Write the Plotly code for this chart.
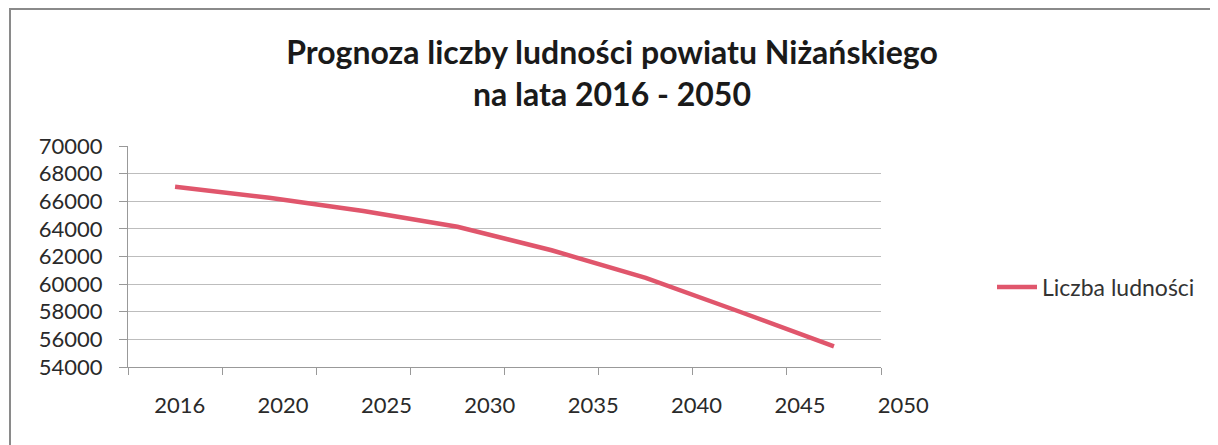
import plotly.graph_objects as go

years = ["2016", "2020", "2025", "2030", "2035", "2040", "2045", "2050"]
population = [67050, 66250, 65300, 64150, 62450, 60450, 58000, 55500]
series_name = "Liczba ludności"
title_text = "Prognoza liczby ludności powiatu Niżańskiego<br>na lata 2016 - 2050"
y_min, y_max, y_step = 54000, 70000, 2000

W, H = 1218, 445
OFF = 8  # page body margin
L, R_PLOT, T, B = 128 - OFF, 881 - OFF, 146 - OFF, 367 - OFF
LABEL_END = 955 - OFF  # right end of label axis (scan is stretched)

fig = go.Figure()
fig.add_trace(go.Scatter(
    x=years, y=population, mode="lines", name=series_name,
    line=dict(color="#E0566C", width=4.5),
    xaxis="x", yaxis="y",
))
# invisible trace carrying the category labels on a second x axis
fig.add_trace(go.Scatter(
    x=years, y=[None] * len(years), mode="lines", showlegend=False,
    xaxis="x2", yaxis="y2", hoverinfo="skip",
))

paper_w = LABEL_END - L
paper_h = B - T
fig.update_layout(
    width=W, height=H,
    margin=dict(l=L, r=W - LABEL_END, t=T, b=H - B, pad=0),
    paper_bgcolor="white", plot_bgcolor="rgba(0,0,0,0)",
    title=dict(text=title_text, x=(612 - OFF) / W, xref="container", xanchor="center",
               y=1 - 56 / H, yref="container", yanchor="top",
               font=dict(family="Lato", size=32, color="#1a1a1a", weight="bold")),
    xaxis=dict(domain=[0, (R_PLOT - L) / paper_w], type="category", anchor="y",
               showticklabels=False, ticks="outside", tickson="boundaries",
               ticklen=7, tickcolor="#999", showline=True, linecolor="#999",
               linewidth=1, showgrid=False, range=[-0.5, len(years) - 0.5]),
    xaxis2=dict(domain=[0, 1], type="category", anchor="y2",
                side="bottom", showline=False, showgrid=False, ticks="",
                ticklabelstandoff=23, zeroline=False,
                tickfont=dict(family="Lato", size=22, color="#2a2a2a"),
                range=[-0.5, len(years) - 0.5]),
    yaxis=dict(domain=[0, 1], anchor="x", range=[y_min, y_max], dtick=y_step,
               tick0=y_min, tickformat="d",
               showgrid=True, gridcolor="#BDBDBD", gridwidth=1,
               showline=True, linecolor="#999", linewidth=1,
               ticks="outside", ticklen=8, tickcolor="#999",
               ticklabelstandoff=12,
               tickfont=dict(family="Lato", size=22, color="#2a2a2a"),
               zeroline=False),
    yaxis2=dict(domain=[0, 1], anchor="x2", visible=False, range=[0, 1],
                showgrid=False, zeroline=False),
    legend=dict(x=(992 - OFF - L) / paper_w, xanchor="left",
                y=(B - (287 - OFF)) / paper_h,
                yanchor="middle", bgcolor="rgba(0,0,0,0)",
                font=dict(family="Lato", size=23, color="#333"),
                itemwidth=40),
    shapes=[dict(type="rect", xref="paper", yref="paper",
                 x0=(10 - OFF - L) / paper_w, x1=(1240 - L) / paper_w,
                 y0=(B - 470) / paper_h, y1=(B - (9 - OFF)) / paper_h,
                 line=dict(color="#8a8a8a", width=2), layer="below")],
)

fig.write_html("out.html")
